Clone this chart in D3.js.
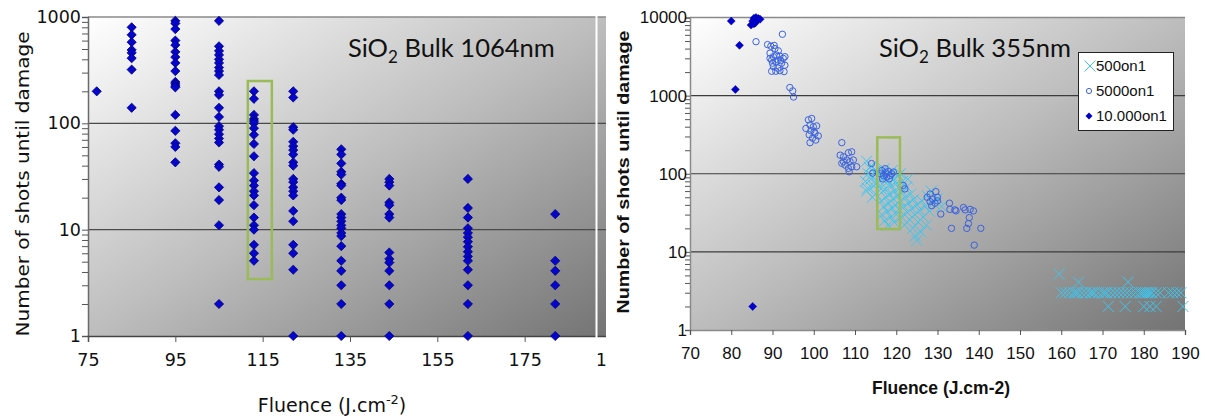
<!DOCTYPE html>
<html><head><meta charset="utf-8">
<script src="https://cdn.jsdelivr.net/npm/d3@7"></script>
<style>html,body{margin:0;padding:0;background:#fff;} svg{display:block;}</style>
</head><body><svg id="c" width="1205" height="419"></svg>
<script>
// ---------- LEFT PANEL DATA (SiO2 Bulk 1064nm) ----------
const leftFluence = [77, 85, 95, 105, 113, 122, 133, 144, 162, 182];
const leftShots = [
  [200],
  [800, 680, 580, 490, 460, 410, 320, 140],
  [920, 870, 770, 600, 545, 470, 420, 370, 310, 245, 235, 225, 218, 120, 85, 65, 60, 43],
  [920, 530, 480, 440, 400, 370, 335, 310, 285, 200, 185, 140, 115, 94, 87, 79, 72, 66, 41, 39, 25, 19, 11, 2],
  [200, 170, 120, 110, 105, 100, 90, 78, 64, 49, 34, 29, 26, 23, 21, 17, 13, 11, 10, 7.2, 6, 5.1],
  [200, 175, 92, 87, 67, 61, 56, 51, 43, 40, 30, 28, 25, 23, 21, 15, 12, 7.2, 6, 4.2, 1],
  [57, 51, 42, 35, 33, 27, 26, 20, 19, 14, 13, 12, 11, 10.3, 9.3, 8.7, 7, 5.1, 4.1, 3, 2, 1],
  [30, 28, 26, 18, 17, 14, 13, 6.1, 5.3, 4.9, 4.1, 3, 2, 1],
  [30, 16, 13, 10.3, 9.3, 8.5, 7.7, 6.9, 6.2, 5.6, 5.1, 4.2, 3, 2, 1],
  [14, 5.1, 4.1, 3, 2, 1]
];
const leftXTicks = [75, 95, 115, 135, 155, 175, 195];
const leftYTicks = [1, 10, 100, 1000];
const leftBox = [111.6, 117.1, 3.43, 250];   // fluence range, shots range

// ---------- RIGHT PANEL DATA (SiO2 Bulk 355nm) ----------
const s500 = [
  [112.8,145],[114,125],[115,110],[113.2,100],[112.5,80],[113,65],[113.5,120],[114,95],[114.5,70],[115,55],[115.5,105],[113.8,85],[112.8,60],[114.2,50],[115.2,75],
  [116,100],[116.2,70],[116.4,45],[116.5,30],[116.6,85],[116.8,60],[117,38],[117,115],[117.2,25],[117.4,90],[117.5,50],[117.6,65],[117.8,33],[118,80],[118,22],[118.2,42],[118.4,55],[118.5,100],[118.7,28],[118.8,70],[119,36],[119,110],[119.2,48],[119.3,85],[119.5,24],[119.6,60],[119.8,40],[120,75],[120,30],[120.3,52],[120.5,95],[120.6,35],[120.8,65],
  [121,45],[121,100],[121.2,28],[121.5,80],[121.6,58],[121.8,38],[122,22],[122.2,50],[122.5,68],[122.7,32],[122.8,85],[123,42],[123.2,26],[123.5,55],[123.8,36],[124,20],[124.2,47],[124.5,30],[124.6,16],[125,14],[125,40],[125.3,24],[125.6,34],[126,18],[126.2,45],[126.5,28],[127,38],[127.3,22],[127.5,52],[128,33],[128.5,60],[129,42],[130,48],[131,38],
  [159.5,5.2],[164.2,4.1],[176.2,4.1],
  [160,3],[161,3],[162,3],[163,3],[163.5,3],[164,3],[165,3],[166,3],[167,3],[167.5,3],[168,3],[169,3],[170,3],[170.5,3],[171,3],[172,3],[173,3],[174,3],[175,3],[176,3],[177,3],[178,3],[179,3],[179.5,3],[180,3],[180.5,3],[181,3],[181.5,3],[182,3],[183,3],[184,3],[186,3],[187,3],[188,3],[189,3],
  [171.4,2],[175.5,2],[180,2],[181.5,2],[183,2],[189.5,2]
];
const s5000 = [
  [92.4,6100],[86,4900],
  [88.8,4500],[89.6,4300],[90.6,4000],[91.4,3750],[89.4,3500],[90.2,3150],[91.8,3200],[92.6,3000],[89.8,2850],[90.8,2700],[92.2,2600],[93.0,2450],[90.2,2350],[91.3,2250],[89.8,2050],[90.8,2050],[91.8,2080],[92.8,2030],[89.4,3000],[91.4,2850],[90.4,4400],[93.0,3150],[91.0,3300],[90.0,2600],[92.0,2800],
  [94.2,1270],[94.9,1150],[95.1,960],
  [98.7,490],[99.5,510],[99.1,420],[99.9,400],[100.7,410],[98.1,380],[99.3,355],[100.3,330],[101.1,305],[98.9,315],[99.7,285],[100.5,270],[99.1,250],[100.1,345],
  [106.8,250],
  [106.4,173],[107.2,165],[108.4,186],[109.2,191],[108,150],[108.8,143],[106.8,136],[107.6,129],[109.6,150],[108.4,117],[109.2,123],[110.4,123],[108.6,106],[107.2,143],
  [114,135],[114.3,102],
  [116.5,110],[117.3,116],[118.1,107],[118.9,100],[116.9,95],[117.7,91],[118.5,95],[116.7,86],[119.3,105],[117.5,103],[118.3,86],[116.1,100],
  [121.7,71],[122.1,64],
  [128.2,55],[129.6,59],[127.5,50],[128.8,47.5],[130,50],[128.2,44],[129.4,42],[128.6,39],[130,45],
  [130.8,30.5],
  [132.9,42],[133,35],[134.2,34.5],[134.5,33.5],[136.3,37],[136.7,34.5],[137.9,35],[138.7,33.5],[137.7,27.5],[137.5,23],[133.4,20],[137.1,20],[140.5,20],[138.9,12.2]
];
const s10000 = [
  [80,9000],[82,4400],[81,1200],
  [84.8,8000],[85.2,9000],[85.5,9800],[85.8,8500],[86,10000],[86.3,9300],[86.6,9700],[87,9500],[85.5,8300],
  [85.2,2]
];
const rightXTicks = [70, 80, 90, 100, 110, 120, 130, 140, 150, 160, 170, 180, 190];
const rightYTicks = [1, 10, 100, 1000, 10000];
const rightBox = [115.4, 120.9, 19.6, 292];
const legendLabels = ["500on1", "5000on1", "10.000on1"];

// ---------- DRAWING ----------
const svg = d3.select("#c");
svg.append("rect").attr("width",1205).attr("height",419).attr("fill","#fff");
const defs = svg.append("defs");
function grad(id){
  const g = defs.append("linearGradient").attr("id",id).attr("x1",0).attr("y1",0).attr("x2",1).attr("y2",1);
  g.append("stop").attr("offset","0%").attr("stop-color","#ffffff");
  g.append("stop").attr("offset","50%").attr("stop-color","#bdbdbd");
  g.append("stop").attr("offset","100%").attr("stop-color","#737373");
}
grad("gL"); grad("gR");
defs.append("clipPath").attr("id","clipL").append("rect").attr("x",0).attr("y",0).attr("width",606).attr("height",419);

function minorTicks(maxExp){
  const t=[];
  for(let e=0;e<maxExp;e++) for(let m=1;m<10;m++) t.push(m*Math.pow(10,e));
  t.push(Math.pow(10,maxExp));
  return t;
}
const diamond = r => `M0,${-r}L${r},0L0,${r}L${-r},0Z`;
const cross = s => `M${-s},${-s}L${s},${s}M${-s},${s}L${s},${-s}`;

// ===== LEFT =====
const L = svg.append("g").attr("clip-path","url(#clipL)");
const xL = d3.scaleLinear().domain([75,195]).range([88,612]);
const yL = d3.scaleLog().domain([1,1000]).range([336,17]);
L.append("rect").attr("x",xL(75)).attr("y",yL(1000)).attr("width",xL(195)-xL(75)).attr("height",yL(1)-yL(1000)).attr("fill","url(#gL)");
L.selectAll("line.grid").data(leftYTicks.slice(1)).join("line").attr("class","grid")
  .attr("x1",xL(75)).attr("x2",xL(195)).attr("y1",d=>yL(d)).attr("y2",d=>yL(d))
  .attr("stroke",d=>d===1000?"#8a8a8a":"#4a4a4a").attr("stroke-width",d=>d===1000?1.5:1.2);
const axL = L.append("g").attr("transform",`translate(${xL(75)},0)`)
  .call(d3.axisLeft(yL).tickValues(minorTicks(3)).tickSize(6).tickPadding(1)
    .tickFormat(d=>leftYTicks.includes(d)?String(d):""));
const axLB = L.append("g").attr("transform",`translate(0,${yL(1)})`)
  .call(d3.axisBottom(xL).tickValues(leftXTicks).tickSize(6).tickPadding(12).tickFormat(d3.format("d")));
[axL,axLB].forEach(a=>{
  a.select(".domain").attr("stroke","#6a6a6a").attr("stroke-width",1.5);
  a.selectAll(".tick line").attr("stroke","#555");
  a.selectAll("text").attr("font-family","'DejaVu Sans'").attr("font-size",17.5).attr("fill","#111");
});
axLB.select(".domain").attr("stroke","#444");
leftFluence.forEach((f,i)=>{
  L.append("g").selectAll("path").data(leftShots[i]).join("path")
    .attr("d",diamond(4.6))
    .attr("transform",d=>`translate(${xL(f)},${yL(d)})`)
    .attr("fill","#0505cc").attr("stroke","#00007a").attr("stroke-width",0.8);
});
L.append("rect").attr("x",xL(leftBox[0])).attr("y",yL(leftBox[3]))
  .attr("width",xL(leftBox[1])-xL(leftBox[0])).attr("height",yL(leftBox[2])-yL(leftBox[3]))
  .attr("fill","none").attr("stroke","#9bbb59").attr("stroke-width",2.5);
L.append("line").attr("x1",596.5).attr("x2",596.5).attr("y1",0).attr("y2",419).attr("stroke","#fff").attr("stroke-width",2);
const tL = L.append("text").attr("x",348).attr("y",57).attr("font-family","Lato").attr("font-size",25.5).attr("fill","#111");
tL.append("tspan").text("SiO");
tL.append("tspan").attr("font-size",17).attr("dy",6).text("2");
tL.append("tspan").attr("dy",-6).text(" Bulk 1064nm");
svg.append("text").attr("transform","translate(29,184) rotate(-90)").attr("text-anchor","middle")
  .attr("font-family","'DejaVu Sans'").attr("font-size",18).attr("fill","#111")
  .attr("textLength",305).attr("lengthAdjust","spacingAndGlyphs").text("Number of shots until damage");
const xtL = svg.append("text").attr("x",332).attr("y",412).attr("text-anchor","middle")
  .attr("font-family","'DejaVu Sans'").attr("font-size",19).attr("fill","#111");
xtL.append("tspan").text("Fluence (J.cm");
xtL.append("tspan").attr("font-size",13).attr("dy",-8).text("-2");
xtL.append("tspan").attr("dy",8).text(")");

// ===== RIGHT =====
const R = svg.append("g");
const xR = d3.scaleLinear().domain([70,190]).range([690,1185]);
const yR = d3.scaleLog().domain([1,10000]).range([330,17.5]);
R.append("rect").attr("x",xR(70)).attr("y",yR(10000)).attr("width",xR(190)-xR(70)).attr("height",yR(1)-yR(10000)).attr("fill","url(#gR)");
R.selectAll("line.grid").data(rightYTicks.slice(1)).join("line").attr("class","grid")
  .attr("x1",xR(70)).attr("x2",xR(190)).attr("y1",d=>yR(d)).attr("y2",d=>yR(d))
  .attr("stroke",d=>d===10000?"#8a8a8a":"#3c3c3c").attr("stroke-width",d=>d===10000?1.5:1.2);
const axR = R.append("g").attr("transform",`translate(${xR(70)},0)`)
  .call(d3.axisLeft(yR).tickValues(minorTicks(4)).tickSize(5).tickPadding(-2)
    .tickFormat(d=>rightYTicks.includes(d)?String(d):""));
const axRB = R.append("g").attr("transform",`translate(0,${yR(1)})`)
  .call(d3.axisBottom(xR).tickValues(rightXTicks).tickSize(5).tickPadding(12).tickFormat(d3.format("d")));
[axR,axRB].forEach(a=>{
  a.select(".domain").attr("stroke","#8a8a8a").attr("stroke-width",1.5);
  a.selectAll(".tick line").attr("stroke","#555");
  a.selectAll("text").attr("font-family","'Liberation Sans'").attr("font-size",17).attr("fill","#111");
});
R.append("g").selectAll("path").data(s500).join("path")
  .attr("d",cross(5.5)).attr("transform",d=>`translate(${xR(d[0])},${yR(d[1])})`)
  .attr("fill","none").attr("stroke","#3fc6ef").attr("stroke-width",1);
R.append("g").selectAll("circle").data(s5000).join("circle")
  .attr("cx",d=>xR(d[0])).attr("cy",d=>yR(d[1])).attr("r",3.2)
  .attr("fill","none").attr("stroke","#3b62df").attr("stroke-width",1);
R.append("g").selectAll("path").data(s10000).join("path")
  .attr("d",diamond(4)).attr("transform",d=>`translate(${xR(d[0])},${yR(d[1])})`)
  .attr("fill","#0000cc").attr("stroke","#0000aa").attr("stroke-width",0.5);
R.append("rect").attr("x",xR(rightBox[0])).attr("y",yR(rightBox[3]))
  .attr("width",xR(rightBox[1])-xR(rightBox[0])).attr("height",yR(rightBox[2])-yR(rightBox[3]))
  .attr("fill","none").attr("stroke","#9bbb59").attr("stroke-width",2.5);
const tR = R.append("text").attr("x",879).attr("y",57).attr("font-family","Lato").attr("font-size",25.5).attr("fill","#111");
tR.append("tspan").text("SiO");
tR.append("tspan").attr("font-size",17).attr("dy",6).text("2");
tR.append("tspan").attr("dy",-6).text(" Bulk 355nm");
const lg = R.append("g");
lg.append("rect").attr("x",1078.5).attr("y",52.5).attr("width",95).attr("height",78).attr("fill","#fff").attr("stroke","#222").attr("stroke-width",1);
const lgY = [66, 91, 116];
lg.append("path").attr("d",cross(5.5)).attr("transform",`translate(1090,${lgY[0]})`).attr("fill","none").attr("stroke","#3fc6ef");
lg.append("circle").attr("cx",1089).attr("cy",lgY[1]).attr("r",2.6).attr("fill","none").attr("stroke","#3b62df");
lg.append("path").attr("d",diamond(3.5)).attr("transform",`translate(1089,${lgY[2]})`).attr("fill","#0000cc");
lg.selectAll("text").data(legendLabels).join("text")
  .attr("x",1096).attr("y",(d,i)=>lgY[i]).attr("dy","0.35em")
  .attr("font-family","'Liberation Sans'").attr("font-size",15).attr("fill","#111").text(d=>d);
svg.append("text").attr("transform","translate(629,172) rotate(-90)").attr("text-anchor","middle")
  .attr("font-family","'Liberation Sans'").attr("font-weight","bold").attr("font-size",16.5).attr("fill","#111")
  .attr("textLength",283).attr("lengthAdjust","spacingAndGlyphs").text("Number of shots until damage");
svg.append("text").attr("x",941).attr("y",394).attr("text-anchor","middle")
  .attr("font-family","'Liberation Sans'").attr("font-weight","bold").attr("font-size",17.5).attr("fill","#111")
  .text("Fluence (J.cm-2)");
</script>
</body></html>
